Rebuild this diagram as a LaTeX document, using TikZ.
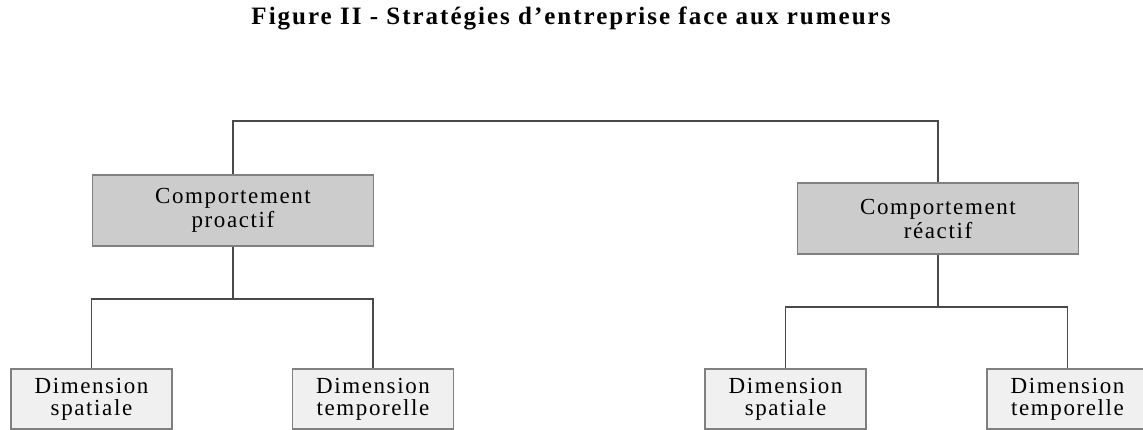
\documentclass[tikz,border=0pt]{standalone}
\usepackage{fontspec}
\setmainfont{Liberation Serif}
\newfontfamily\titlefont[LetterSpace=8]{Liberation Serif}
\newfontfamily\boxfont[LetterSpace=7]{Liberation Serif}
\usepackage{tikz}
\usepackage{xcolor}
\usetikzlibrary{positioning}

\definecolor{darkbox}{HTML}{CCCCCC}
\definecolor{lightbox}{HTML}{F0F0F0}
\definecolor{boxline}{HTML}{808080}
\definecolor{linkline}{HTML}{4A4A4A}

\begin{document}
\begin{tikzpicture}[
    x=1pt, y=-1pt,
    mainbox/.style={rectangle, draw=boxline, line width=1.8pt, fill=darkbox, minimum width=281pt, minimum height=71pt, align=center, font=\boxfont\fontsize{23}{24}\selectfont},
    subbox/.style={rectangle, draw=boxline, line width=1.8pt, fill=lightbox, minimum width=161pt, minimum height=60pt, align=center, font=\boxfont\fontsize{23}{22}\selectfont},
    link/.style={draw=linkline, line width=1.5pt}
]
\useasboundingbox (0,0) rectangle (1143,430);

% Title
\node [anchor=base, font=\titlefont\bfseries\fontsize{25}{28}\selectfont] (title) at (571,25) {Figure II - Stratégies d’entreprise face aux rumeurs};

% Main boxes
\node [mainbox] (pro) at (233,210.5) {Comportement\\proactif};
\node [mainbox] (rea) at (938,218.5) {Comportement\\réactif};

% Sub boxes
\node [subbox] (pspat) at (91.5,399) {Dimension\\spatiale};
\node [subbox] (ptemp) at (373,399) {Dimension\\temporelle};
\node [subbox] (rspat) at (785.5,399) {Dimension\\spatiale};
\node [subbox] (rtemp) at (1067.5,399) {Dimension\\temporelle};

% Junctions
\coordinate (top) at (233,121);
\coordinate (pbar) at (233,299);
\coordinate (rbar) at (938,307);

% Links
\draw [link] (pro.north) -- (top) -| (rea.north);
\draw [link] (pro.south) -- (pbar);
\draw [link] (pspat.north) |- (pbar) -| (ptemp.north);
\draw [link] (rea.south) -- (rbar);
\draw [link] (rspat.north) |- (rbar) -| (rtemp.north);

\end{tikzpicture}
\end{document}
